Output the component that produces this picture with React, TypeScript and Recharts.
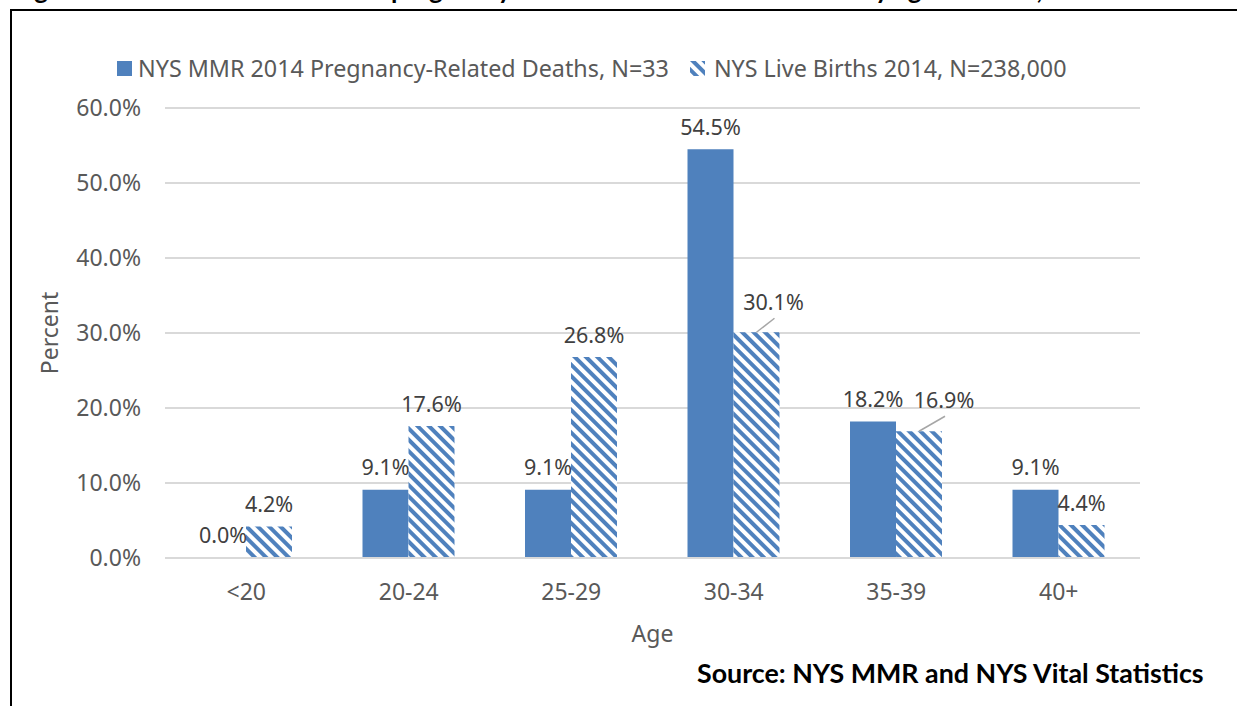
import React from 'react';
import { BarChart, Bar, XAxis, YAxis, CartesianGrid, Legend, LabelList } from 'recharts';

const ageGroups = ['<20', '20-24', '25-29', '30-34', '35-39', '40+'];
const deathPct = [0.0, 9.1, 9.1, 54.5, 18.2, 9.1];
const birthPct = [4.2, 17.6, 26.8, 30.1, 16.9, 4.4];
const yTicks = [0, 10, 20, 30, 40, 50, 60];

const deathsName = 'NYS MMR 2014 Pregnancy-Related Deaths, N=33';
const birthsName = 'NYS Live Births 2014, N=238,000';

const data = ageGroups.map((age, i) => ({ age, deaths: deathPct[i], births: birthPct[i] }));

const BLUE = '#4f81bd';
const TEXT = '#595959';
const FONT = "'Noto Sans', sans-serif";

// labels Excel had dragged off their bars (with leader lines)
const birthLabelShift: Record<number, [number, number]> = { 3: [17, -8], 4: [25, -9] };

const fmt = (v: number) => `${v.toFixed(1)}%`;

const makeLabel = (shift: Record<number, [number, number]>) => (props: any) => {
  const { x, y, width, value, index } = props;
  const cx = Number(x) + Number(width) / 2;
  const [dx, dy] = shift[index] ?? [0, 0];
  const lx = cx + dx;
  const ly = Number(y) - 23 + dy;
  return (
    <g>
      {(dx !== 0 || dy !== 0) && (
        <line x1={cx} y1={Number(y)} x2={lx + 1} y2={ly + 17} stroke="#a6a6a6" strokeWidth={1.5} />
      )}
      <text
        x={lx}
        y={ly}
        textAnchor="middle"
        dominantBaseline="central"
        fontFamily={FONT}
        fontSize={21.5}
        fill="#404040"
      >
        {fmt(Number(value))}
      </text>
    </g>
  );
};

const LegendContent = () => (
  <div
    style={{
      display: 'flex',
      alignItems: 'center',
      height: 36,
      whiteSpace: 'nowrap',
      fontFamily: FONT,
      fontSize: 23.3,
      color: TEXT,
    }}
  >
    <svg width={15} height={15} style={{ marginRight: 6 }}>
      <rect width={15} height={15} fill={BLUE} />
    </svg>
    <span style={{ marginRight: 21 }}>{deathsName}</span>
    <svg width={15} height={15} style={{ marginRight: 9 }}>
      <defs>
        <pattern id="hatchIcon" width={8} height={8} patternUnits="userSpaceOnUse" patternTransform="rotate(-45)">
          <rect width={8} height={8} fill="#fff" />
          <rect width={4} height={8} fill={BLUE} />
        </pattern>
      </defs>
      <rect width={15} height={15} fill="url(#hatchIcon)" />
    </svg>
    <span>{birthsName}</span>
  </div>
);

export default function App() {
  return (
    <div
      style={{
        position: 'absolute',
        left: 0,
        top: 0,
        width: 1237,
        height: 706,
        overflow: 'hidden',
        background: '#fff',
      }}
    >
      <div
        style={{
          position: 'absolute',
          left: 13,
          top: -27,
          whiteSpace: 'nowrap',
          fontFamily: 'Lato, sans-serif',
          fontWeight: 700,
          fontSize: 26,
          color: '#000',
        }}
      >
        Figure 6: Percent Distribution of pregnancy-related deaths and live births by age at death, NYS 2014
      </div>
      <div
        style={{
          position: 'absolute',
          left: 10,
          top: 9,
          width: 1400,
          height: 900,
          border: '2px solid #000',
        }}
      />
      <div style={{ position: 'absolute', left: 0, top: 0 }}>
        <BarChart
          width={1237}
          height={706}
          data={data}
          margin={{ top: 72, right: 97, left: 0, bottom: 118 }}
          barGap={0}
          barSize={46}
        >
          <defs>
            <pattern id="hatch" width={8} height={8} patternUnits="userSpaceOnUse" patternTransform="rotate(-45)">
              <rect width={8} height={8} fill="#fff" />
              <rect width={4} height={8} fill={BLUE} />
            </pattern>
          </defs>
          <CartesianGrid vertical={false} stroke="#d9d9d9" strokeWidth={2} />
          <XAxis
            dataKey="age"
            axisLine={{ stroke: '#d9d9d9', strokeWidth: 2 }}
            tickLine={false}
            tickMargin={20}
            tick={{ fill: TEXT, fontSize: 23, fontFamily: FONT }}
            label={{
              value: 'Age',
              position: 'bottom',
              offset: 38,
              fill: TEXT,
              fontSize: 23,
              fontFamily: FONT,
            }}
          />
          <YAxis
            width={165}
            domain={[0, 60]}
            ticks={yTicks}
            tickFormatter={fmt}
            axisLine={false}
            tickLine={false}
            tickMargin={18}
            tick={{ fill: TEXT, fontSize: 23, fontFamily: FONT }}
            label={{
              value: 'Percent',
              angle: -90,
              position: 'center',
              dx: -33,
              fill: TEXT,
              fontSize: 23,
              fontFamily: FONT,
            }}
          />
          <Legend
            verticalAlign="top"
            align="left"
            content={<LegendContent />}
            wrapperStyle={{ left: 117, top: 50, width: 'auto', height: 36 }}
          />
          <Bar dataKey="deaths" name={deathsName} fill={BLUE} minPointSize={0.01} isAnimationActive={false}>
            <LabelList dataKey="deaths" content={makeLabel({})} />
          </Bar>
          <Bar dataKey="births" name={birthsName} fill="url(#hatch)" isAnimationActive={false}>
            <LabelList dataKey="births" content={makeLabel(birthLabelShift)} />
          </Bar>
        </BarChart>
      </div>
      <div
        style={{
          position: 'absolute',
          left: 697,
          top: 657,
          whiteSpace: 'nowrap',
          fontFamily: 'Lato, sans-serif',
          fontWeight: 700,
          fontSize: 26.8,
          color: '#000',
        }}
      >
        Source: NYS MMR and NYS Vital Statistics
      </div>
    </div>
  );
}
